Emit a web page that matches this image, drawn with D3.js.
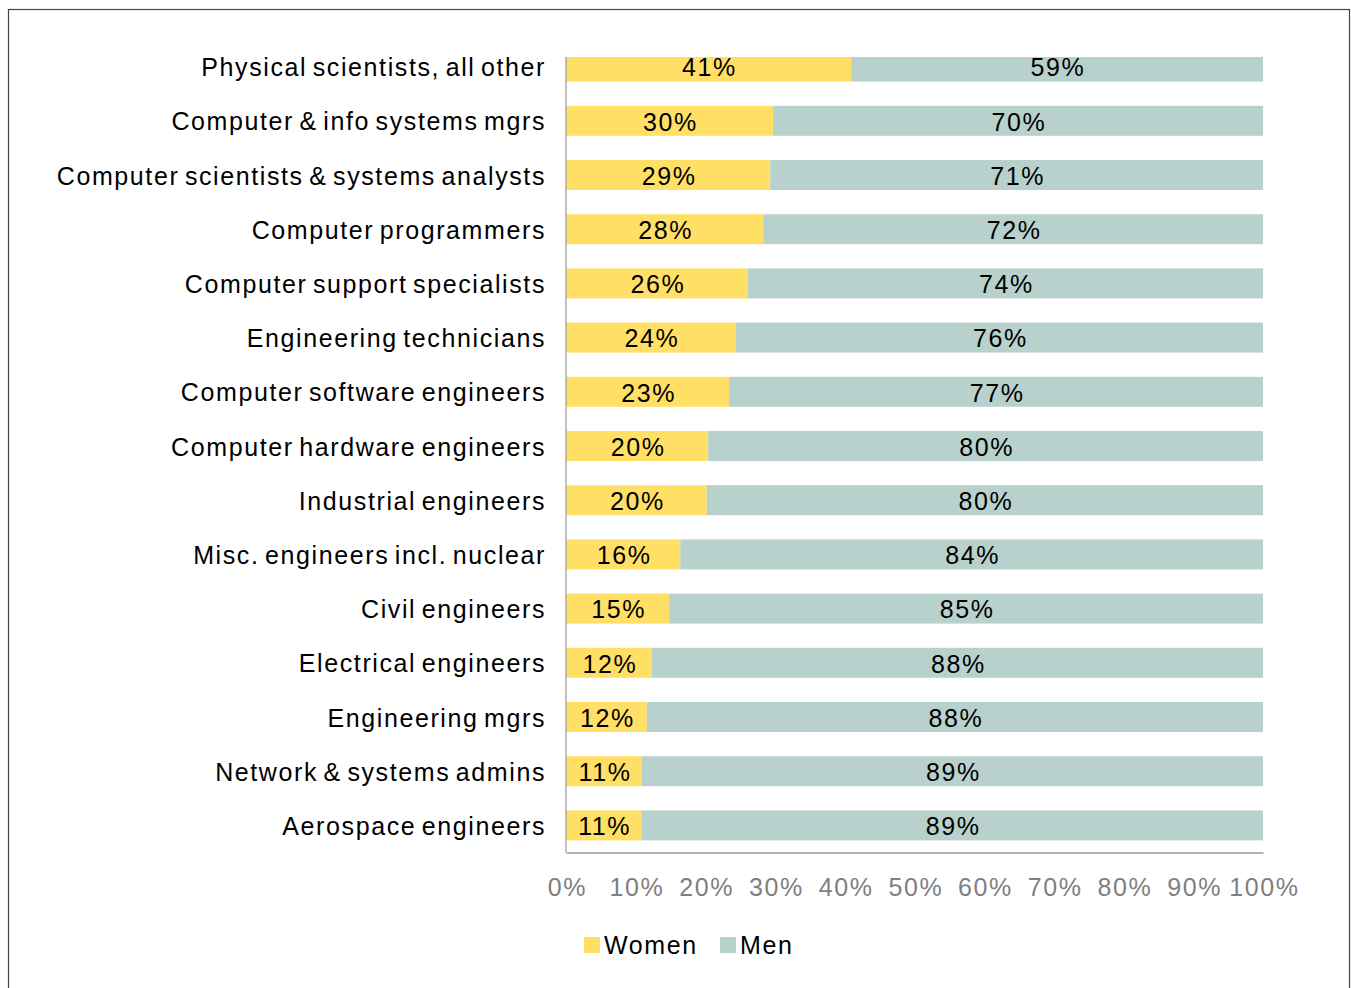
<!DOCTYPE html>
<html><head><meta charset="utf-8">
<script src="https://cdn.jsdelivr.net/npm/d3@7"></script>
<style>body{margin:0;background:#fff}svg{display:block}text{font-family:"Liberation Sans",Arial,sans-serif;letter-spacing:1.6px;word-spacing:-3px}</style>
</head><body><div id="chart"></div>
<script>
const categories = ["Physical scientists, all other","Computer & info systems mgrs","Computer scientists & systems analysts","Computer programmers","Computer support specialists","Engineering technicians","Computer software engineers","Computer hardware engineers","Industrial engineers","Misc. engineers incl. nuclear","Civil engineers","Electrical engineers","Engineering mgrs","Network & systems admins","Aerospace engineers"];
const women = [40.9,29.7,29.3,28.3,26.1,24.4,23.4,20.4,20.2,16.4,14.8,12.3,11.6,10.9,10.8];
const men = women.map(w => 100 - w);
const xTicks = [0,10,20,30,40,50,60,70,80,90,100];
const seriesNames = ["Women","Men"];
const colors = ["#FFDF66","#B8D1CC"];

const W = 1351, H = 988;
const svg = d3.select("#chart").append("svg").attr("width", W).attr("height", H);
svg.append("rect").attr("x",8.5).attr("y",9.5).attr("width",1341).attr("height",1000)
  .attr("fill","none").attr("stroke","#444").attr("stroke-width",1.2);

const x = d3.scaleLinear().domain([0,100]).range([566,1263]);
const y = d3.scaleBand().domain(categories).range([39.5,852.5]).paddingInner(0.447).paddingOuter(0.2235);
const plotTop = 57, plotBottom = 852.5;

svg.append("defs").append("clipPath").attr("id","clip").append("rect")
  .attr("x",560).attr("y",plotTop).attr("width",720).attr("height",plotBottom-plotTop);

const g = svg.append("g").attr("clip-path","url(#clip)");
const rows = categories.map((c,i)=>({c, w:women[i], m:men[i]}));
g.selectAll(".w").data(rows).join("rect").attr("x",x(0)).attr("y",d=>y(d.c))
  .attr("width",d=>x(d.w)-x(0)).attr("height",y.bandwidth()).attr("fill",colors[0]);
g.selectAll(".m").data(rows).join("rect").attr("x",d=>x(d.w)).attr("y",d=>y(d.c))
  .attr("width",d=>x(100)-x(d.w)).attr("height",y.bandwidth()).attr("fill",colors[1]);

const lab = svg.append("g").attr("font-size",25).attr("fill","#000").attr("text-anchor","middle");
lab.selectAll(".lw").data(rows).join("text").attr("x",d=>(x(0)+x(d.w))/2+1).attr("y",d=>y(d.c)+y.bandwidth()/2+1)
  .attr("dy","0.35em").text(d=>Math.round(d.w)+"%");
lab.selectAll(".lm").data(rows).join("text").attr("x",d=>(x(d.w)+x(100))/2+1).attr("y",d=>y(d.c)+y.bandwidth()/2+1)
  .attr("dy","0.35em").text(d=>Math.round(d.m)+"%");

// category axis
const yAxis = svg.append("g").attr("transform",`translate(${x(0)},0)`)
  .call(d3.axisLeft(y).tickSize(0).tickPadding(20));
yAxis.select(".domain").remove();
yAxis.selectAll("text").attr("font-size",25).attr("fill","#000").attr("dy","0.38em");
svg.append("line").attr("x1",x(0)).attr("x2",x(0)).attr("y1",plotTop).attr("y2",plotBottom).attr("stroke","#999").attr("stroke-width",1.2);

// x axis
const xAxis = svg.append("g").attr("transform",`translate(0,${plotBottom})`)
  .call(d3.axisBottom(x).tickValues(xTicks).tickFormat(d=>d+"%").tickSize(0).tickPadding(28));
xAxis.select(".domain").attr("stroke","#999").attr("stroke-width",1.5);
xAxis.selectAll("text").attr("font-size",25).attr("fill","#7f7f7f").attr("dy","0.6em").attr("dx","0.8");

// legend
const leg = svg.append("g");
const legX = [584, 720];
seriesNames.forEach((n,i)=>{
  leg.append("rect").attr("x",legX[i]).attr("y",937).attr("width",16).attr("height",16).attr("fill",colors[i]);
  leg.append("text").attr("x",legX[i]+20).attr("y",954).attr("font-size",25).attr("fill","#000").text(n);
});
</script></body></html>
